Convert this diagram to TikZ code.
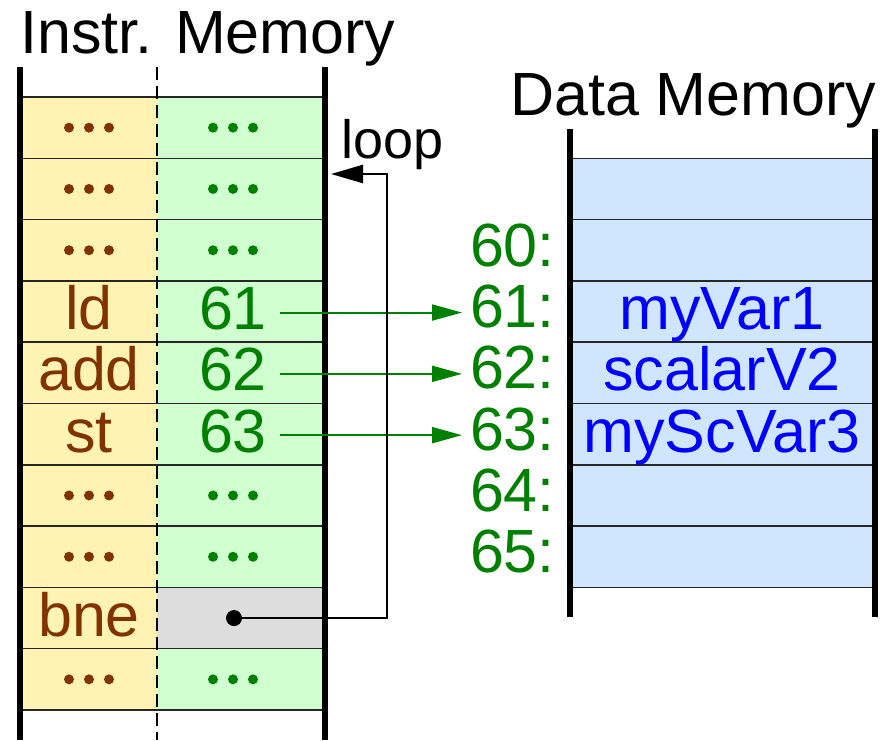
\documentclass[tikz,border=0pt]{standalone}
\usepackage{fontspec}
\setmainfont{Liberation Sans}
\usetikzlibrary{arrows.meta}
\definecolor{opcol}{RGB}{128,51,0}
\definecolor{argcol}{RGB}{0,128,0}
\definecolor{opfill}{RGB}{255,243,179}
\definecolor{argfill}{RGB}{208,255,208}
\definecolor{datafill}{RGB}{208,230,255}
\definecolor{selfill}{RGB}{221,221,221}
\tikzset{
  big/.style={font=\fontsize{61}{61}\selectfont, inner sep=0pt, anchor=base},
  optext/.style={big, text=opcol},
  argtext/.style={big, text=argcol},
  addrtext/.style={big, text=argcol, anchor=base east},
  vartext/.style={big, text=blue},
  wall/.style={line width=6pt},
  rowline/.style={line width=1.5pt, draw=black!85},
  ptr/.style={line width=2pt, draw=argcol, -{Triangle[length=30pt,width=16pt]}},
  jump/.style={line width=2.5pt, -{Triangle[length=32pt,width=18pt]}}
}
% three dots centred at a point
\newcommand{\threedots}[3]{%
  \foreach \dx in {-20,0,20}{\fill[#3] ({#1+\dx},{#2}) circle (5pt);}}
\begin{document}
\begin{tikzpicture}[x=1pt,y=-1pt]
\useasboundingbox (0,0) rectangle (886,740);
\def\rh{61.3}

% instruction memory: fills
\fill[opfill] (20,97) rectangle (157,710);
\fill[argfill] (157,97) rectangle (325,710);
\fill[selfill] (157,{97+8*\rh}) rectangle (325,{97+9*\rh});
\foreach \i in {0,...,10}
  \draw[rowline] (20,{97+\i*\rh}) -- (325,{97+\i*\rh});
\draw[line width=1.3pt, dash pattern=on 13pt off 6pt] (157,67) -- (157,740);
\draw[wall] (20,67) -- (20,740);
\draw[wall] (325,67) -- (325,740);

% data memory
\fill[datafill] (570,{97+\rh}) rectangle (875,{97+8*\rh});
\foreach \i in {1,...,8}
  \draw[rowline] (570,{97+\i*\rh}) -- (875,{97+\i*\rh});
\draw[wall] (570,129) -- (570,617);
\draw[wall] (875,129) -- (875,617);

% titles
\node[big, anchor=base west] (ititle) at (20,53) {Instr. Memory};
\node[big, anchor=base west] (dtitle) at (510,115) {Data Memory};
\node[font=\fontsize{54}{54}\selectfont, inner sep=0pt, anchor=base west] (looplbl) at (341,158) {loop};

% placeholder rows
\foreach \r in {1,2,3,7,8,10}{
  \threedots{89}{97+(\r-0.5)*\rh}{opcol}
  \threedots{233}{97+(\r-0.5)*\rh}{argcol}
}

% instructions
\node[optext] (ld)  at (89,{97+3.5*\rh+18}) {ld};
\node[optext] (add) at (89,{97+4.5*\rh+18}) {add};
\node[optext] (st)  at (89,{97+5.5*\rh+18}) {st};
\node[optext] (bne) at (89,{97+8.5*\rh+18}) {bne};
\node[argtext] (n61) at (233,{97+3.5*\rh+18}) {61};
\node[argtext] (n62) at (233,{97+4.5*\rh+18}) {62};
\node[argtext] (n63) at (233,{97+5.5*\rh+18}) {63};

% addresses
\foreach \k/\a in {2/60,3/61,4/62,5/63,6/64,7/65}
  \node[addrtext] (a\a) at (555,{97+(\k+0.5)*\rh+16}) {\a:};

% variables
\node[vartext] (v1) at (722,{97+3.5*\rh+18}) {myVar1};
\node[vartext] (v2) at (722,{97+4.5*\rh+18}) {scalarV2};
\node[vartext] (v3) at (722,{97+5.5*\rh+18}) {myScVar3};

% address pointers
\coordinate (s61) at (280,{97+3.5*\rh+1});
\coordinate (s62) at (280,{97+4.5*\rh+1});
\coordinate (s63) at (280,{97+5.5*\rh+1});
\coordinate (e61) at (462,{97+3.5*\rh+1});
\coordinate (e62) at (462,{97+4.5*\rh+1});
\coordinate (e63) at (462,{97+5.5*\rh+1});
\draw[ptr] (s61) -- (e61);
\draw[ptr] (s62) -- (e62);
\draw[ptr] (s63) -- (e63);

% branch target
\coordinate (src) at (234,{97+8.5*\rh});
\coordinate (tgt) at (331,174);
\fill (src) circle (8pt);
\draw[jump] (src) -- (387,{97+8.5*\rh}) -- (387,174) -- (tgt);
\end{tikzpicture}
\end{document}
